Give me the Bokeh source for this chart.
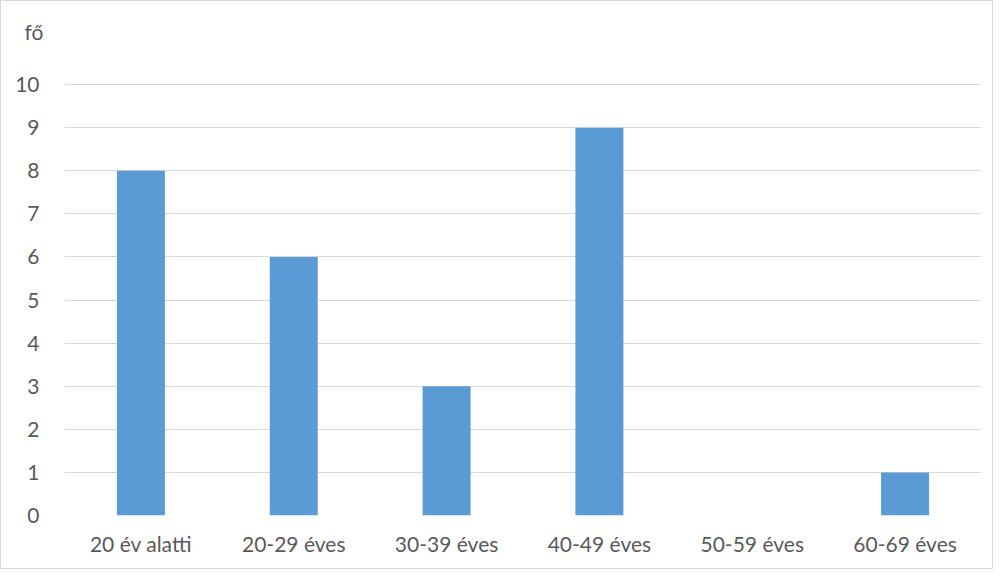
from bokeh.plotting import figure
from bokeh.models import ColumnDataSource, FactorRange, Range1d, FixedTicker
from bokeh.embed import file_html
from bokeh.resources import INLINE

categories = ["20 év alatti", "20-29 éves", "30-39 éves", "40-49 éves", "50-59 éves", "60-69 éves"]
values = [8, 6, 3, 9, 0, 1]
y_ticks = list(range(0, 11))
unit_label = "fő"

FONT = "Lato"
TXT = "#595959"
GRID = "#d9d9d9"
FS = "21px"

src = ColumnDataSource(dict(cat=categories, val=values))

# frame extends slightly above 10 (no grid line there) so the unit title sits right
p = figure(width=993, height=569, x_range=FactorRange(*categories, range_padding=0),
           y_range=Range1d(0, 10.72), output_backend="svg", toolbar_location=None,
           min_border_left=63, min_border_right=13, min_border_top=52, min_border_bottom=55,
           title=unit_label)
p.styles = {"border": "1px solid #d9d9d9"}
p.x_range.range_padding = 0
p.x_range.factor_padding = 0

p.vbar(x="cat", top="val", width=0.314, bottom=0, source=src, color="#5B9BD5", line_color=None)

p.outline_line_color = None
p.xgrid.grid_line_color = None
p.ygrid.grid_line_color = GRID
p.ygrid.grid_line_width = 1
p.yaxis.ticker = FixedTicker(ticks=y_ticks)

for ax in (p.xaxis, p.yaxis):
    ax.axis_line_color = None
    ax.major_tick_line_color = None
    ax.minor_tick_line_color = None
    ax.major_tick_out = 0
    ax.major_tick_in = 0
    ax.major_label_text_font = FONT
    ax.major_label_text_font_size = FS
    ax.major_label_text_color = TXT

p.yaxis.major_label_standoff = 25
p.xaxis.major_label_standoff = 15

p.title.text_font = FONT
p.title.text_font_size = FS
p.title.text_font_style = "normal"
p.title.text_color = TXT
p.title.align = "left"
p.title.offset = -40
p.title.standoff = 20

open("out.html", "w").write(file_html(p, INLINE))
